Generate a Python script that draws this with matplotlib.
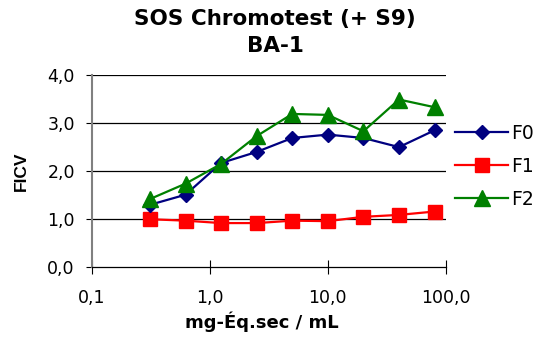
import matplotlib
matplotlib.use("Agg")
import matplotlib.pyplot as plt
from matplotlib.ticker import FixedLocator, FixedFormatter, NullLocator

plt.rcParams['font.family'] = ['DejaVu Sans']

doses = [0.3125, 0.625, 1.25, 2.5, 5, 10, 20, 40, 80]
f0 = [1.30, 1.51, 2.17, 2.40, 2.69, 2.76, 2.69, 2.50, 2.85]
f1 = [1.00, 0.97, 0.92, 0.92, 0.97, 0.96, 1.05, 1.09, 1.16]
f2 = [1.42, 1.74, 2.15, 2.73, 3.19, 3.17, 2.83, 3.49, 3.33]
series_names = ["F0", "F1", "F2"]
x_ticks = [0.1, 1, 10, 100]
x_ticklabels = ["0,1", "1,0", "10,0", "100,0"]
y_ticks = [0, 1, 2, 3, 4]
y_ticklabels = ["0,0", "1,0", "2,0", "3,0", "4,0"]

W, H = 544, 340
fig = plt.figure(figsize=(W / 100, H / 100), dpi=100)
L, R, T, B = 91.5, 446, 75, 267.3
ax = fig.add_axes([L / W, 1 - B / H, (R - L) / W, (B - T) / H])

ax.plot(doses, f0, color="#000080", marker="D", markersize=7.6, linewidth=1.6,
        label=series_names[0], zorder=4)
ax.plot(doses, f1, color="#FF0000", marker="s", markersize=10, linewidth=1.6,
        label=series_names[1], zorder=3)
ax.plot(doses, f2, color="#008000", marker="^", markersize=12, linewidth=1.6,
        label=series_names[2], zorder=5)

ax.set_xscale("log")
ax.set_xlim(0.1, 100)
ax.set_ylim(0, 4)
ax.xaxis.set_major_locator(FixedLocator(x_ticks))
ax.xaxis.set_major_formatter(FixedFormatter(x_ticklabels))
ax.xaxis.set_minor_locator(NullLocator())
ax.set_yticks(y_ticks)
ax.set_yticklabels(y_ticklabels)

for y in y_ticks[1:]:
    ax.axhline(y, color="black", linewidth=0.9, zorder=1)

for s in ["top", "right"]:
    ax.spines[s].set_visible(False)
ax.spines["left"].set_color("#808080")
ax.spines["left"].set_linewidth(1.5)
ax.spines["bottom"].set_color("black")
ax.spines["bottom"].set_linewidth(0.9)
ax.tick_params(axis="x", direction="inout", length=9.5, width=0.8, labelsize=12.5, pad=11)
ax.tick_params(axis="y", direction="out", length=4, width=0.8, color="black", labelsize=12.5, pad=8)

fig.text(262 / W, 1 - 328 / H, "mg-Éq.sec / mL", ha="center", va="baseline",
         fontsize=13, fontweight="bold")
fig.text(21.5 / W, 1 - 171 / H, "FICV", ha="center", va="center", rotation=90,
         fontsize=12.5, fontweight="bold", family=["Liberation Sans", "DejaVu Sans"])

fig.text(275 / W, 1 - 25 / H, "SOS Chromotest (+ S9)", ha="center", va="baseline",
         fontsize=15.5, fontweight="bold")
fig.text(275 / W, 1 - 52.5 / H, "BA-1", ha="center", va="baseline",
         fontsize=15.5, fontweight="bold")

leg = ax.legend(loc="upper left", bbox_to_anchor=(455 / W, 1 - 124 / H),
                bbox_transform=fig.transFigure, frameon=False, fontsize=13.5,
                handlelength=2.85, labelspacing=0.74, handletextpad=0.15,
                borderpad=0, borderaxespad=0)

fig.savefig("out.png", dpi=100)
